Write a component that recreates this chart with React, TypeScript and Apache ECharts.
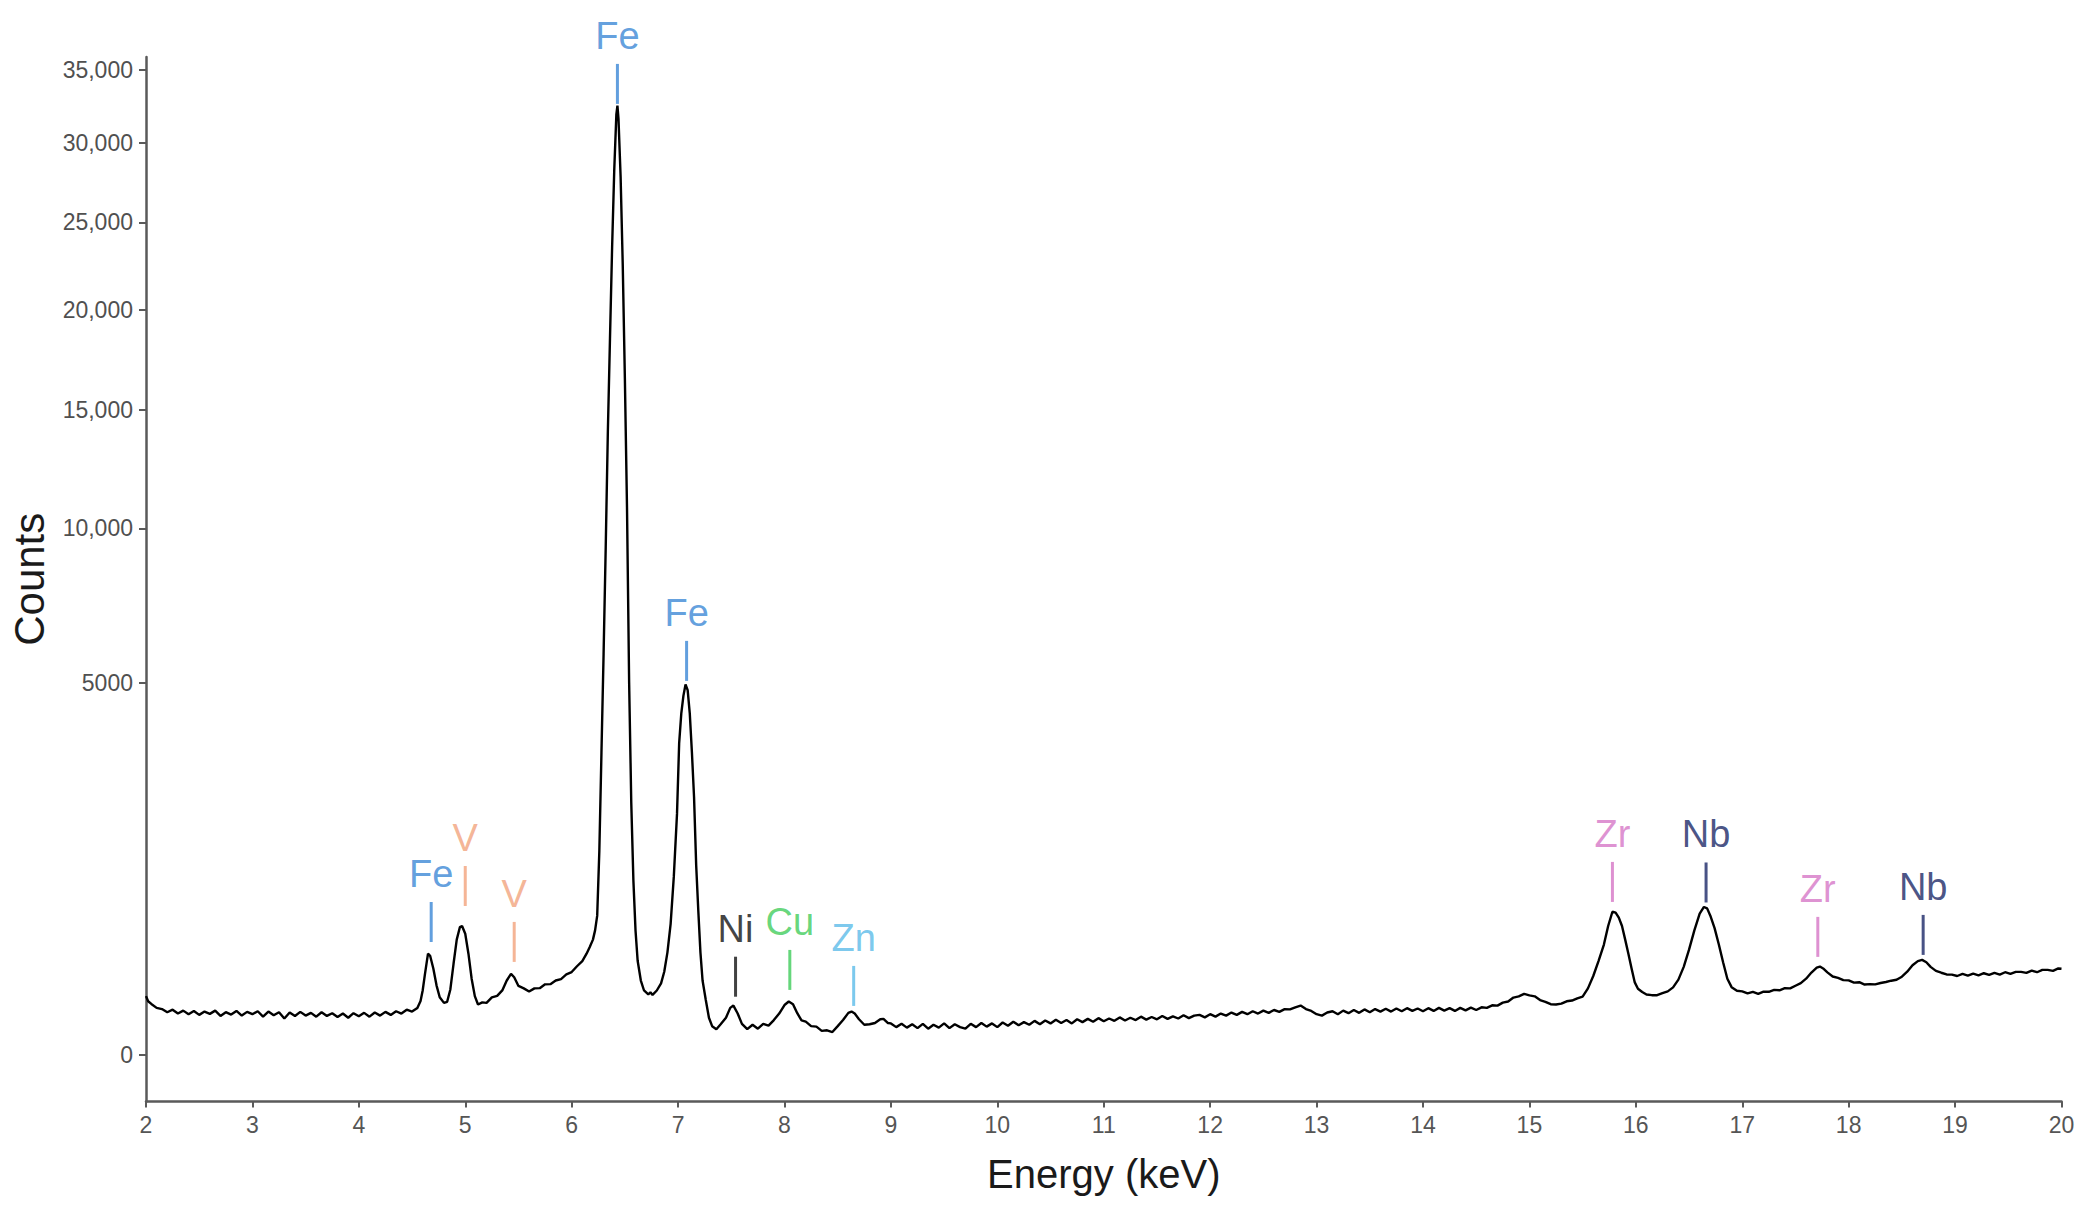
import React, { useEffect, useRef } from "react";
import * as echarts from "echarts";

// ---- Spectrum data: [energy keV, counts] ----
const background2to4: [number, number][] = [
  [2.0, 125], [2.02, 104], [2.05, 94], [2.1, 80], [2.15, 76], [2.2, 66], [2.25, 74], [2.3, 62],
  [2.35, 71], [2.4, 60], [2.45, 70], [2.5, 58], [2.55, 68], [2.6, 61], [2.65, 71], [2.7, 55],
  [2.75, 66], [2.8, 59], [2.85, 70], [2.9, 56], [2.95, 67], [3.0, 60], [3.05, 69], [3.1, 53],
  [3.15, 68], [3.2, 57], [3.25, 66], [3.3, 48], [3.35, 65], [3.4, 55], [3.45, 67], [3.5, 56],
  [3.55, 64], [3.6, 53], [3.65, 66], [3.7, 55], [3.75, 63], [3.8, 52], [3.85, 62], [3.9, 50],
  [3.95, 63], [4.0, 54], [4.05, 64], [4.1, 53], [4.15, 65], [4.2, 56], [4.25, 67], [4.3, 58],
  [4.35, 69], [4.4, 62], [4.45, 74], [4.5, 68],
];

const feVRegion: [number, number][] = [
  [4.55, 80], [4.58, 105], [4.6, 150], [4.62, 230], [4.65, 370], [4.67, 355], [4.7, 270],
  [4.73, 175], [4.76, 120], [4.8, 98], [4.83, 102], [4.86, 155], [4.89, 300], [4.92, 480],
  [4.95, 590], [4.97, 600], [5.0, 530], [5.03, 370], [5.06, 210], [5.09, 125], [5.12, 92],
  [5.16, 100], [5.2, 98], [5.25, 120], [5.3, 126], [5.35, 152], [5.39, 200], [5.43, 237],
  [5.46, 218], [5.5, 172], [5.55, 160], [5.6, 145], [5.65, 160], [5.7, 161], [5.75, 180],
  [5.8, 181], [5.85, 200], [5.9, 208], [5.95, 234], [6.0, 248], [6.05, 284], [6.1, 318],
  [6.14, 370], [6.17, 420], [6.2, 480], [6.22, 560], [6.24, 700], [6.26, 1500], [6.28, 3300],
  [6.3, 5800], [6.32, 9300], [6.34, 14000], [6.36, 18500], [6.38, 23500], [6.4, 28200],
  [6.42, 31900], [6.43, 32500], [6.44, 31600], [6.46, 27800], [6.48, 22500], [6.5, 16500],
  [6.52, 10800], [6.54, 5000], [6.56, 2300], [6.58, 1100], [6.6, 560], [6.62, 320],
  [6.65, 200], [6.68, 150], [6.72, 132], [6.74, 142], [6.76, 130], [6.8, 150], [6.84, 185],
  [6.87, 250], [6.9, 380], [6.93, 620], [6.96, 1150], [6.99, 2100], [7.01, 3500], [7.03, 4200],
  [7.05, 4650], [7.07, 4950], [7.09, 4800], [7.11, 4200], [7.13, 3300], [7.15, 2400],
  [7.17, 1300], [7.19, 750], [7.21, 380], [7.23, 200], [7.26, 110], [7.29, 50], [7.32, 30],
  [7.36, 24],
];

const traceRegion: [number, number][] = [
  [7.4, 34], [7.45, 50], [7.49, 80], [7.52, 88], [7.56, 62], [7.6, 35], [7.65, 24], [7.7, 33],
  [7.75, 25], [7.8, 35], [7.85, 31], [7.9, 44], [7.95, 62], [8.0, 90], [8.04, 103], [8.08, 93],
  [8.12, 63], [8.16, 43], [8.2, 40], [8.25, 30], [8.3, 29], [8.35, 21], [8.4, 22], [8.45, 19],
  [8.5, 30], [8.55, 44], [8.6, 64], [8.63, 68], [8.66, 62], [8.7, 46], [8.75, 33], [8.8, 34],
  [8.85, 37], [8.9, 46], [8.93, 47], [8.97, 37], [9.0, 36], [9.05, 28], [9.1, 35], [9.15, 27],
];

const midBackground: [number, number][] = [
  [9.2, 34], [9.25, 26], [9.3, 35], [9.35, 25], [9.4, 33], [9.45, 27], [9.5, 36], [9.55, 26],
  [9.6, 34], [9.65, 28], [9.7, 25], [9.75, 35], [9.8, 28], [9.85, 37], [9.9, 29], [9.95, 36],
  [10.0, 28], [10.05, 38], [10.1, 31], [10.15, 40], [10.2, 32], [10.25, 39], [10.3, 33],
  [10.35, 42], [10.4, 34], [10.45, 43], [10.5, 36], [10.55, 45], [10.6, 37], [10.65, 44],
  [10.7, 36], [10.75, 46], [10.8, 39], [10.85, 47], [10.9, 40], [10.95, 49], [11.0, 41],
  [11.05, 48], [11.1, 42], [11.15, 51], [11.2, 43], [11.25, 50], [11.3, 44], [11.35, 53],
  [11.4, 45], [11.45, 52], [11.5, 46], [11.55, 55], [11.6, 47], [11.65, 54], [11.7, 48],
  [11.75, 57], [11.8, 49], [11.85, 56], [11.9, 58], [11.95, 51], [12.0, 60], [12.05, 53],
  [12.1, 62], [12.15, 56], [12.2, 65], [12.25, 58], [12.3, 67], [12.35, 60], [12.4, 69],
  [12.45, 62], [12.5, 71], [12.55, 64], [12.6, 73], [12.65, 67], [12.7, 76], [12.75, 75],
];

const zrNbRegion: [number, number][] = [
  [12.8, 82], [12.85, 88], [12.9, 76], [12.95, 70], [13.0, 60], [13.05, 56], [13.1, 65],
  [13.15, 69], [13.2, 60], [13.25, 71], [13.3, 63], [13.35, 73], [13.4, 64], [13.45, 75],
  [13.5, 66], [13.55, 76], [13.6, 68], [13.65, 77], [13.7, 68], [13.75, 78], [13.8, 69],
  [13.85, 79], [13.9, 70], [13.95, 78], [14.0, 69], [14.05, 79], [14.1, 70], [14.15, 80],
  [14.2, 71], [14.25, 79], [14.3, 70], [14.35, 80], [14.4, 72], [14.45, 81], [14.5, 73],
  [14.55, 82], [14.6, 80], [14.65, 89], [14.7, 88], [14.75, 99], [14.8, 103], [14.85, 119],
  [14.9, 124], [14.95, 135], [15.0, 128], [15.05, 124], [15.1, 109], [15.15, 102],
  [15.2, 93], [15.25, 92], [15.3, 95], [15.35, 104], [15.4, 107], [15.45, 116], [15.5, 123],
  [15.55, 160], [15.6, 225], [15.65, 320], [15.7, 440], [15.74, 600], [15.78, 740],
  [15.81, 730], [15.84, 680], [15.87, 600], [15.9, 480], [15.93, 370], [15.96, 270],
  [15.99, 190], [16.02, 158], [16.06, 143], [16.1, 132], [16.15, 129], [16.2, 129],
  [16.25, 138], [16.3, 146], [16.35, 165], [16.4, 205], [16.45, 280], [16.5, 400],
  [16.55, 560], [16.6, 720], [16.64, 790], [16.67, 775], [16.7, 700], [16.74, 580],
  [16.78, 440], [16.82, 310], [16.86, 210], [16.9, 166], [16.95, 149], [17.0, 146],
  [17.05, 137], [17.1, 144], [17.15, 135], [17.2, 145], [17.25, 144], [17.3, 153],
  [17.35, 151], [17.4, 161], [17.45, 160], [17.5, 173], [17.55, 186], [17.6, 210],
  [17.65, 245], [17.7, 275], [17.73, 282], [17.76, 270], [17.8, 246], [17.85, 222],
  [17.9, 214], [17.95, 202], [18.0, 201], [18.05, 189], [18.1, 191], [18.15, 179],
  [18.2, 181], [18.25, 180], [18.3, 187], [18.35, 192], [18.4, 199], [18.45, 204],
  [18.5, 221], [18.55, 250], [18.6, 290], [18.65, 318], [18.69, 326], [18.73, 310],
  [18.77, 280], [18.82, 255], [18.87, 244], [18.92, 234], [18.97, 233], [19.02, 225],
  [19.07, 237], [19.12, 227], [19.17, 239], [19.22, 229], [19.27, 241], [19.32, 231],
  [19.37, 243], [19.42, 233], [19.47, 247], [19.52, 237], [19.57, 249], [19.62, 249],
  [19.67, 243], [19.72, 257], [19.77, 247], [19.82, 261], [19.87, 261], [19.92, 255],
  [19.97, 270], [20.0, 268],
];

// ---- Axis ticks ----
const xMin = 2;
const xMax = 20;
const yTickCounts = [0, 5000, 10000, 15000, 20000, 25000, 30000, 35000];
const yTickLabels = ["0", "5000", "10,000", "15,000", "20,000", "25,000", "30,000", "35,000"];

// ---- Element line markers: element, energy keV, counts at marker centre ----
const elementNames = ["Fe", "Fe", "Fe", "V", "V", "Ni", "Cu", "Zn", "Zr", "Nb", "Zr", "Nb"];
const elementEnergies = [6.43, 7.08, 4.68, 5.0, 5.46, 7.54, 8.05, 8.65, 15.78, 16.66, 17.71, 18.7];
const elementCounts = [34000, 5600, 638, 1030, 461, 221, 261, 172, 1080, 1073, 503, 520];

const elementColors: Record<string, string> = {
  Fe: "#3b87d6",
  V: "#f2a27c",
  Ni: "#111111",
  Cu: "#3fcc5a",
  Zn: "#5bbbe8",
  Zr: "#d676c6",
  Nb: "#1a2766",
};

const FONT = "'Liberation Sans', Arial, sans-serif";
const TICK_FONT = "'Liberation Sans Narrow', 'Liberation Sans', Arial, sans-serif";

const toAxis = (c: number) => Math.sqrt(Math.max(c, 0));

export default function App() {
  const ref = useRef<HTMLDivElement>(null);

  useEffect(() => {
    if (!ref.current) return;
    const chart = echarts.init(ref.current, undefined, { renderer: "svg" });

    const spectrum = [
      ...background2to4,
      ...feVRegion,
      ...traceRegion,
      ...midBackground,
      ...zrNbRegion,
    ].map(([e, c]) => [e, toAxis(c)]);

    const yTickAxisValues = yTickCounts.map(toAxis);
    const labelFor = (v: number) => {
      let best = 0;
      for (let i = 0; i < yTickAxisValues.length; i++) {
        if (Math.abs(yTickAxisValues[i] - v) < Math.abs(yTickAxisValues[best] - v)) best = i;
      }
      return yTickLabels[best];
    };

    const markers = elementNames.map((name, i) => ({
      name,
      value: [elementEnergies[i], toAxis(elementCounts[i])],
      itemStyle: { color: elementColors[name] },
      label: { color: elementColors[name] },
    }));

    const axisColor = "#5a5a5a";

    chart.setOption({
      animation: false,
      backgroundColor: "#ffffff",
      textStyle: { fontFamily: FONT },
      grid: { left: 145, right: 24.5, top: 57, bottom: 105.5, containLabel: false },
      xAxis: {
        type: "value",
        min: xMin,
        max: xMax,
        interval: 1,
        name: "Energy (keV)",
        nameLocation: "middle",
        nameGap: 52,
        nameTextStyle: { fontSize: 40, color: "#1a1a1a", fontFamily: FONT },
        axisLine: { show: true, onZero: false, lineStyle: { color: axisColor, width: 2.5 } },
        axisTick: { show: true, length: 6, lineStyle: { color: axisColor, width: 2 } },
        axisLabel: { margin: 12, fontSize: 23, color: "#555555", fontFamily: TICK_FONT },
        splitLine: { show: false },
      },
      yAxis: {
        type: "value",
        min: -8.83,
        max: 189.5,
        name: "Counts",
        nameLocation: "middle",
        nameGap: 96,
        nameTextStyle: { fontSize: 42, color: "#1a1a1a", fontFamily: FONT },
        axisLine: { show: true, onZero: false, lineStyle: { color: axisColor, width: 2.5 } },
        axisTick: {
          show: true,
          length: 7,
          customValues: yTickAxisValues,
          lineStyle: { color: axisColor, width: 2 },
        },
        axisLabel: {
          customValues: yTickAxisValues,
          formatter: (v: number) => labelFor(v),
          margin: 13,
          fontSize: 23,
          color: "#505050",
          fontFamily: TICK_FONT,
        },
        splitLine: { show: false },
      },
      series: [
        {
          type: "line",
          data: spectrum,
          showSymbol: false,
          symbol: "none",
          lineStyle: { color: "#000000", width: 2.4 },
          silent: true,
          z: 3,
        },
        {
          type: "scatter",
          data: markers,
          symbol: "rect",
          symbolSize: [3, 40],
          silent: true,
          z: 5,
          label: {
            show: true,
            position: "top",
            distance: 9,
            formatter: "{b}",
            fontSize: 38,
            fontFamily: FONT,
          },
        },
      ],
    });

    return () => chart.dispose();
  }, []);

  return (
    <div
      ref={ref}
      style={{ position: "fixed", left: 0, top: 0, width: 2086, height: 1207, background: "#fff" }}
    />
  );
}
